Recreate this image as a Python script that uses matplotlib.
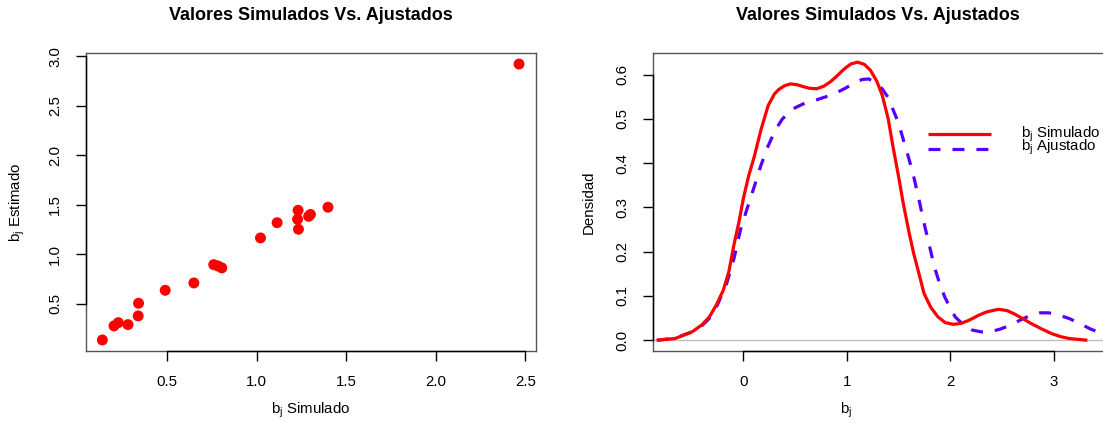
import matplotlib
matplotlib.use("Agg")
import matplotlib.pyplot as plt
from matplotlib.lines import Line2D

plt.rcParams['font.family'] = ['Liberation Sans', 'DejaVu Sans']
plt.rcParams['mathtext.fontset'] = 'custom'
plt.rcParams['mathtext.rm'] = 'Liberation Sans'
plt.rcParams['mathtext.it'] = 'Liberation Sans'

# simulated vs fitted b_j values
b_sim = [0.138, 0.203, 0.227, 0.281, 0.338, 0.340, 0.489, 0.649, 0.760, 0.783,
         0.805, 1.021, 1.114, 1.231, 1.228, 1.233, 1.290, 1.300, 1.398, 2.465]
b_est = [0.134, 0.276, 0.309, 0.289, 0.377, 0.505, 0.636, 0.710, 0.895, 0.882,
         0.862, 1.165, 1.319, 1.444, 1.354, 1.253, 1.383, 1.402, 1.475, 2.922]

# density curves of both sets
dens_sim_x = [-0.837, -0.66, -0.495, -0.40, -0.328, -0.26, -0.194, -0.14, -0.094, -0.04,
              0.00, 0.05, 0.107, 0.17, 0.24, 0.30, 0.34, 0.40, 0.458, 0.52,
              0.575, 0.64, 0.709, 0.78, 0.843, 0.91, 0.977, 1.04, 1.104, 1.17,
              1.227, 1.29, 1.344, 1.40, 1.445, 1.50, 1.545, 1.60, 1.645, 1.70,
              1.746, 1.81, 1.88, 1.95, 2.03, 2.10, 2.18, 2.27, 2.35, 2.465,
              2.55, 2.615, 2.70, 2.78, 2.88, 2.98, 3.07, 3.15, 3.325]
dens_sim_y = [0.000, 0.004, 0.019, 0.035, 0.053, 0.080, 0.113, 0.155, 0.212, 0.270,
              0.320, 0.370, 0.416, 0.475, 0.530, 0.556, 0.566, 0.575, 0.579, 0.577,
              0.573, 0.569, 0.568, 0.574, 0.584, 0.598, 0.613, 0.624, 0.628, 0.623,
              0.610, 0.585, 0.552, 0.500, 0.439, 0.370, 0.310, 0.245, 0.197, 0.148,
              0.106, 0.075, 0.053, 0.040, 0.036, 0.038, 0.045, 0.056, 0.064, 0.070,
              0.067, 0.060, 0.049, 0.038, 0.026, 0.015, 0.008, 0.004, 0.000]

dens_est_x = [-0.837, -0.66, -0.495, -0.40, -0.33, -0.25, -0.16, -0.09, -0.027, 0.04,
              0.107, 0.17, 0.24, 0.31, 0.375, 0.44, 0.508, 0.60, 0.709, 0.80,
              0.91, 1.00, 1.077, 1.15, 1.211, 1.28, 1.344, 1.40, 1.445, 1.50,
              1.545, 1.60, 1.645, 1.70, 1.746, 1.80, 1.846, 1.90, 1.946, 2.00,
              2.047, 2.13, 2.214, 2.30, 2.38, 2.48, 2.58, 2.68, 2.78, 2.87,
              2.95, 3.05, 3.15, 3.25, 3.35, 3.47, 3.60]
dens_est_y = [0.000, 0.005, 0.019, 0.033, 0.049, 0.080, 0.129, 0.185, 0.250, 0.300,
              0.348, 0.395, 0.439, 0.475, 0.499, 0.515, 0.526, 0.536, 0.543, 0.550,
              0.560, 0.571, 0.582, 0.589, 0.590, 0.582, 0.567, 0.548, 0.522, 0.490,
              0.454, 0.410, 0.371, 0.315, 0.265, 0.212, 0.166, 0.126, 0.098, 0.073,
              0.053, 0.034, 0.023, 0.019, 0.019, 0.025, 0.034, 0.046, 0.057, 0.062,
              0.062, 0.057, 0.049, 0.038, 0.026, 0.015, 0.007]

RED = '#FF0000'
BLUE = '#5500FF'
FRAME = '#555555'
FS = 10.8
W, H = 1103, 426

fig = plt.figure(figsize=(W / 100, H / 100), dpi=100)


def px(x, y):
    return x / W, 1 - y / H


def r_axes(rect_px, xticks, yticks, xlim, ylim):
    x0, y0, x1, y1 = rect_px
    ax = fig.add_axes([x0 / W, 1 - y1 / H, (x1 - x0) / W, (y1 - y0) / H])
    ax.set_xlim(*xlim)
    ax.set_ylim(*ylim)
    ax.set_xticks(xticks)
    ax.set_yticks(yticks)
    for s in ax.spines.values():
        s.set_color(FRAME)
        s.set_linewidth(1.0)
    ax.tick_params(direction='out', length=7, width=1, color='black',
                   labelsize=FS, pad=10)
    # R-style axis lines from first to last tick
    ax.plot([xticks[0], xticks[-1]], [0, 0], transform=ax.get_xaxis_transform(),
            color='black', lw=1, clip_on=False, zorder=5)
    ax.plot([0, 0], [yticks[0], yticks[-1]], transform=ax.get_yaxis_transform(),
            color='black', lw=1, clip_on=False, zorder=5)
    return ax


# left panel: scatter
rx = max(b_sim) - min(b_sim)
ry = max(b_est) - min(b_est)
ax1 = r_axes((85.7, 53, 535.7, 351),
             [0.5, 1.0, 1.5, 2.0, 2.5], [0.5, 1.0, 1.5, 2.0, 2.5, 3.0],
             (min(b_sim) - 0.04 * rx, max(b_sim) + 0.04 * rx),
             (min(b_est) - 0.04 * ry, max(b_est) + 0.04 * ry))
ax1.set_xticklabels(['0.5', '1.0', '1.5', '2.0', '2.5'])
ax1.set_yticklabels(['0.5', '1.0', '1.5', '2.0', '2.5', '3.0'], rotation=90, va='center')
ax1.scatter(b_sim, b_est, s=62, color=RED, edgecolors='none', zorder=3)

fig.text(*px(310.7, 16), 'Valores Simulados Vs. Ajustados',
         fontsize=13, fontweight='bold', ha='center', va='center')
fig.text(*px(310.7, 410), r'$\mathregular{b_j}$ Simulado', fontsize=FS,
         ha='center', va='center')
fig.text(*px(17, 202), r'$\mathregular{b_j}$ Estimado', fontsize=FS,
         ha='center', va='center', rotation=90)

# right panel: densities
xl = (-0.876, 3.56)
px_per_unit = 103.47
ax2 = r_axes((652.7, 53.3, 652.7 + (xl[1] - xl[0]) * px_per_unit, 351),
             [0, 1, 2, 3], [0.0, 0.1, 0.2, 0.3, 0.4, 0.5, 0.6],
             xl, (-0.0242, 0.648))
ax2.set_yticklabels(['0.0', '0.1', '0.2', '0.3', '0.4', '0.5', '0.6'], rotation=90, va='center')
ax2.axhline(0, color='#BEBEBE', lw=1, zorder=1)
ax2.plot(dens_sim_x, dens_sim_y, color=RED, lw=2.3, solid_joinstyle='round',
         solid_capstyle='butt', zorder=3)
ax2.plot(dens_est_x, dens_est_y, color=BLUE, lw=2.3, dashes=(3.75, 3.75),
         dash_capstyle='butt', dash_joinstyle='round', zorder=2)

fig.text(*px(878, 16), 'Valores Simulados Vs. Ajustados',
         fontsize=13, fontweight='bold', ha='center', va='center')
fig.text(*px(846, 410), r'$\mathregular{b_j}$', fontsize=FS, ha='center', va='center')
fig.text(*px(589, 202), 'Densidad', fontsize=FS, ha='center', va='center', rotation=90)

# legend, drawn in figure pixels
for (y_line, y_text, color, dash, label) in [
        (134, 138, RED, None, r'$\mathregular{b_j}$ Simulado'),
        (149.3, 150.7, BLUE, (3.75, 3.75), r'$\mathregular{b_j}$ Ajustado')]:
    ln = Line2D([928 / W, 991 / W], [1 - y_line / H] * 2, transform=fig.transFigure,
                color=color, lw=2.3, solid_capstyle='butt', dash_capstyle='butt')
    if dash:
        ln.set_dashes(dash)
    fig.add_artist(ln)
    fig.text(*px(1020.7, y_text), label, fontsize=FS, ha='left', va='baseline')

fig.savefig('out.png', dpi=100)
